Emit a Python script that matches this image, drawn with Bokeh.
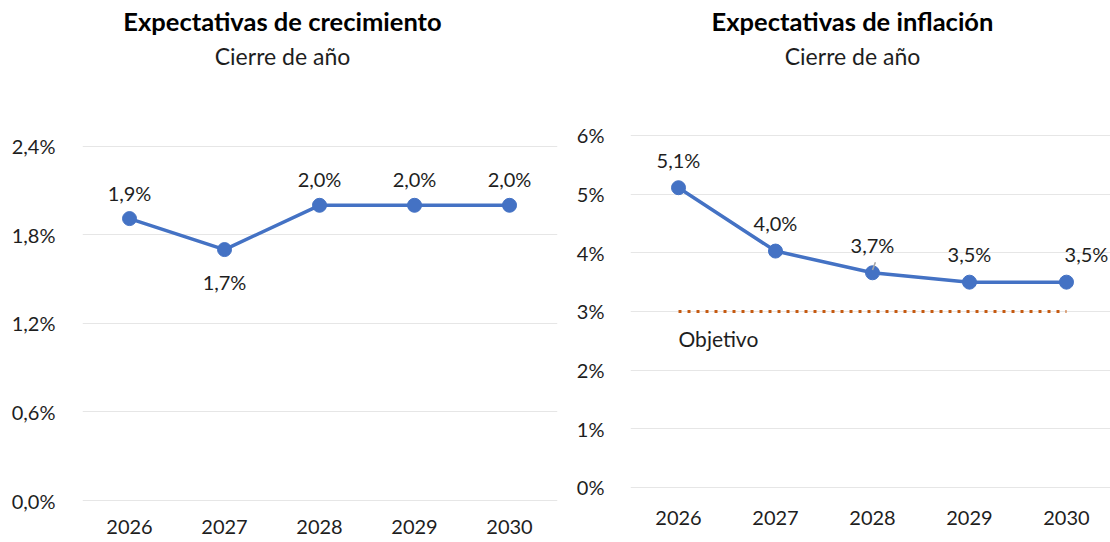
from bokeh.plotting import figure
from bokeh.layouts import row
from bokeh.models import ColumnDataSource, FixedTicker, LabelSet, Label, Range1d
from bokeh.core.properties import value
from bokeh.embed import file_html
from bokeh.resources import INLINE

# ---------------- data ----------------
years = ["2026", "2027", "2028", "2029", "2030"]
growth = [1.91, 1.70, 2.00, 2.00, 2.00]
inflation = [5.11, 4.03, 3.66, 3.50, 3.50]
target = [3.0, 3.0, 3.0, 3.0, 3.0]
growth_ticks = [0.0, 0.6, 1.2, 1.8, 2.4]
inflation_ticks = [0, 1, 2, 3, 4, 5, 6]
title_left = "Expectativas de crecimiento"
title_right = "Expectativas de inflación"
subtitle = "Cierre de año"
target_label = "Objetivo"

# ---------------- style ----------------
FONT = "Lato"
BLUE = "#4472C4"
ORANGE = "#C55A11"
TEXT = "#1e1e1e"
GRID = "#e6e6e6"
FRAME_H = 502  # frame spans page y 0..502 (titles drawn inside the frame area)


def pct(v, d):
    return (f"{v:.{d}f}%").replace(".", ",")


def to_dx(sx, frame_left, frame_w, rng):
    return rng[0] + (sx - frame_left) / frame_w * (rng[1] - rng[0])


def to_dy(sy, rng):
    return rng[1] - sy / FRAME_H * (rng[1] - rng[0])


def panel(values, ticks, dec, title, xr, yr, border_left, border_right, frame_w,
          frame_left_page, title_cx, y_standoff, x_standoff, above_px, below_px,
          last_dx):
    p = figure(frame_width=frame_w, frame_height=FRAME_H,
               x_range=Range1d(*xr), y_range=Range1d(*yr),
               output_backend="svg", toolbar_location=None,
               min_border_left=border_left, min_border_right=border_right,
               min_border_top=0, min_border_bottom=0)
    p.outline_line_color = None
    p.background_fill_color = "white"
    p.border_fill_color = "white"
    p.xgrid.grid_line_color = None
    p.ygrid.grid_line_color = GRID
    p.ygrid.grid_line_width = 1
    xs = list(range(len(years)))
    p.xaxis.ticker = FixedTicker(ticks=xs)
    p.xaxis.major_label_overrides = {i: y for i, y in enumerate(years)}
    p.yaxis.ticker = FixedTicker(ticks=ticks)
    p.yaxis.major_label_overrides = {t: pct(t, dec) for t in ticks}
    for ax in (p.xaxis, p.yaxis):
        ax.axis_line_color = None
        ax.major_tick_line_color = None
        ax.minor_tick_line_color = None
        ax.major_tick_out = 0
        ax.major_tick_in = 0
        ax.major_label_text_font = FONT
        ax.major_label_text_font_size = "20px"
        ax.major_label_text_color = TEXT
    p.xaxis.major_label_standoff = x_standoff
    p.yaxis.major_label_standoff = y_standoff

    src = ColumnDataSource(dict(x=xs, y=values))
    p.line("x", "y", source=src, line_color=BLUE, line_width=3.5)
    p.scatter("x", "y", source=src, size=14, fill_color=BLUE, line_color=BLUE)

    # data labels: above, except local minima which go below
    offs, xoffs = [], []
    for i, v in enumerate(values):
        lo = (0 < i < len(values) - 1 and v < values[i - 1] and v < values[i + 1])
        offs.append(-below_px if lo else above_px)
        xoffs.append(last_dx if i == len(values) - 1 else 0)
    lsrc = ColumnDataSource(dict(x=xs, y=values, t=[pct(v, 1) for v in values],
                                 yo=offs, xo=xoffs))
    p.add_layout(LabelSet(x="x", y="y", text="t", source=lsrc, x_offset="xo",
                          y_offset="yo", text_align="center",
                          text_baseline="middle", text_font=value(FONT),
                          text_font_size=value("20px"), text_color=TEXT))

    cx = to_dx(title_cx, frame_left_page, frame_w, xr)
    p.add_layout(Label(x=cx, y=to_dy(20, yr), text=title, text_align="center",
                       text_baseline="middle", text_font=FONT,
                       text_font_size="25.5px", text_font_style="bold",
                       text_color="black"))
    p.add_layout(Label(x=cx, y=to_dy(55, yr), text=subtitle, text_align="center",
                       text_baseline="middle", text_font=FONT,
                       text_font_size="23px", text_color=TEXT))
    return p, xs


# left: growth  (frame x 82..557, 0% at y=500, 2.4% at y=145.7)
xr_l = (-0.495, 4.505)
yr_l = (-0.01355, 3.3875)
p1, xs = panel(growth, growth_ticks, 1, title_left, xr_l, yr_l,
               border_left=82, border_right=8, frame_w=475, frame_left_page=82,
               title_cx=282, y_standoff=27, x_standoff=17, above_px=26,
               below_px=32, last_dx=0)

# right: inflation  (frame x 630..1110, 0% at y=487, 6% at y=135)
xr_r = (-0.495, 4.454)
yr_r = (-0.2557, 8.301)
p2, xs = panel(inflation, inflation_ticks, 0, title_right, xr_r, yr_r,
               border_left=65, border_right=0, frame_w=480, frame_left_page=630,
               title_cx=852, y_standoff=26, x_standoff=8, above_px=28,
               below_px=28, last_dx=20)
p2.line(xs, target, line_color=ORANGE, line_width=3, line_dash="3 6")
p2.add_layout(Label(x=xs[0], y=target[0], y_offset=-27, text=target_label,
                    text_align="left", text_baseline="middle", text_font=FONT,
                    text_font_size="21px", text_color=TEXT))
# small leader line for the 2028 label
i = 2
p2.segment(x0=[xs[i]], y0=[inflation[i] + 0.046], x1=[xs[i] + 0.03],
           y1=[inflation[i] + 0.18], line_color="#a6a6a6", line_width=1.5)

layout = row(p1, p2)
open("out.html", "w").write(file_html(layout, INLINE))
